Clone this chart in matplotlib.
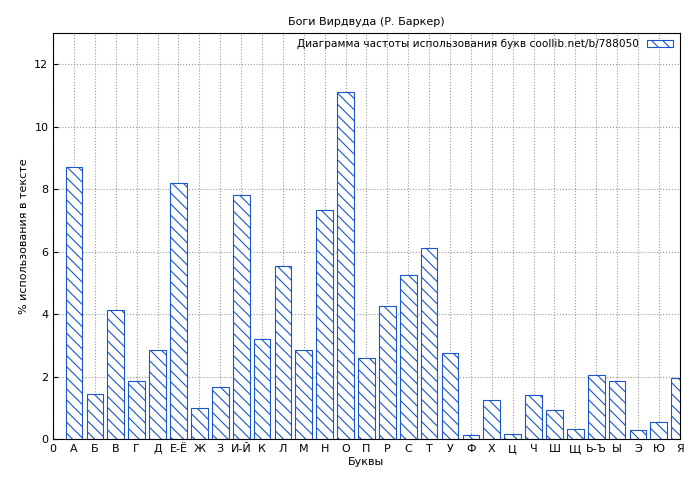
import matplotlib
matplotlib.use("Agg")
import matplotlib.pyplot as plt

letters = ["0", "А", "Б", "В", "Г", "Д", "Е-Ё", "Ж", "З", "И-Й", "К", "Л", "М", "Н", "О", "П",
           "Р", "С", "Т", "У", "Ф", "Х", "Ц", "Ч", "Ш", "Щ", "Ь-Ъ", "Ы", "Э", "Ю", "Я"]
values = [8.7, 1.45, 4.15, 1.85, 2.85, 8.2, 1.0, 1.68, 7.82, 3.2, 5.55, 2.85, 7.35, 11.1, 2.6,
          4.25, 5.25, 6.12, 2.75, 0.12, 1.27, 0.18, 1.4, 0.95, 0.32, 2.05, 1.87, 0.3, 0.55, 1.97]

plt.rcParams["hatch.color"] = "#1a56c8"
plt.rcParams["hatch.linewidth"] = 0.8
fig = plt.figure(figsize=(7, 4.8), dpi=100)
ax = fig.add_axes([0.076, 0.085, 0.895, 0.846])
ax.bar(range(1, len(values) + 1), values, width=0.8, facecolor="white",
       edgecolor="#1a56c8", hatch="\\\\\\", linewidth=0.8,
       label="Диаграмма частоты использования букв coollib.net/b/788050")
ax.set_xlim(0, 30)
ax.set_ylim(0, 13)
ax.set_xticks(range(len(letters)))
ax.set_xticklabels(letters, fontsize=8)
ax.set_yticks(range(0, 13, 2))
ax.tick_params(labelsize=8, direction="in")
ax.grid(True, color="#999999", linestyle=":", linewidth=0.8)
ax.set_axisbelow(True)
ax.set_title("Боги Вирдвуда (Р. Баркер)", fontsize=8)
ax.set_xlabel("Буквы", fontsize=8, labelpad=2)
ax.set_ylabel("% использования в тексте", fontsize=8)
ax.legend(loc="upper right", fontsize=7.6, frameon=False, handlelength=2.5,
          borderaxespad=0.2, markerfirst=False)
fig.savefig("out.png")
